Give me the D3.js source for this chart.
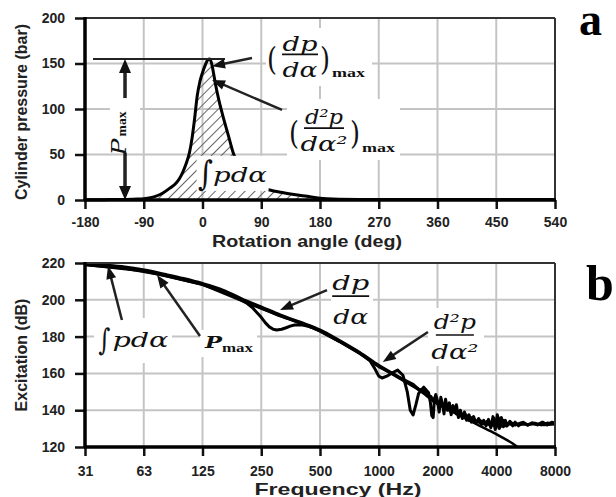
<!DOCTYPE html>
<html>
<head>
<meta charset="utf-8">
<script src="https://cdn.jsdelivr.net/npm/d3@7"></script>
<style>
  html, body { margin: 0; padding: 0; background: #fff; }
  svg { display: block; }
</style>
</head>
<body>
<svg id="chart" width="616" height="497"></svg>
<script>
// ---------------- DATA ----------------
// Panel a: cylinder pressure vs rotation angle
const angleTicks = [-180, -90, 0, 90, 180, 270, 360, 450, 540];
const pressureTicks = [0, 50, 100, 150, 200];
const angleDeg = [-180,-150,-120,-100,-90,-80,-70,-60,-50,-40,-35,-30,-25,-20,-16,-12,-8,-4,0,4,8,11,14,17,20,25,31,40,47,55,65,80,95,103,120,140,160,180,200,240,300,360,450,540];
const pressureBar = [0.3,0.4,0.6,1,1.5,2.5,4.5,8,13,19,24,31,40,52,68,90,115,130,140,148,154,155,150,139,127,110,93,70,52,38,26,17,12.5,11,8.5,6,4,2,1,0.6,0.5,0.5,0.5,0.5];
const pMaxValue = 155;
const hatchRange = [-70, 180];

// Panel b: excitation spectra (frequency Hz, dB)
const freqTicks = [31.25, 62.5, 125, 250, 500, 1000, 2000, 4000, 8000];
const freqTickLabels = ["31", "63", "125", "250", "500", "1000", "2000", "4000", "8000"];
const excitationTicks = [120, 140, 160, 180, 200, 220];

const spectrumIntegral = [[31.25,219.5],[40,218.6],[50,217.5],[63,215.8],[80,213.6],[100,211.2],[125,208.6],[160,204.8],[200,199.8],[250,195.5],[315,191],[400,187.3],[500,183.3],[630,177.5],[800,171],[1000,164],[1250,157.8],[1600,151],[2000,143.5],[2500,138],[3150,132.5],[4000,127],[5000,121],[5600,117]];
const spectrumPmax = [[31.25,219.8],[40,219],[50,218],[63,216.3],[80,214],[100,211.7],[125,209],[160,205.3],[200,200.5],[250,196.3],[315,191.8],[400,187.8],[500,183.8],[630,178],[800,171.5],[1000,164.5],[1250,158.5],[1600,151.5],[2000,144.5],[2400,139.5],[2800,136],[3200,133.5],[3600,132.5],[4000,131.5],[4500,132.5],[5000,132],[6000,132.5],[7000,132],[8000,132.5]];
const spectrumDp = [[31.25,219],[50,217.2],[80,213.3],[125,208.3],[160,204.5],[200,199.5],[212,198],[225,195.8],[238,193],[250,190.5],[262,187.6],[275,185.3],[288,184],[300,183.6],[318,184],[335,184.8],[352,185.7],[370,186.3],[400,186.4],[430,185.8],[460,184.7],[500,183],[630,177.3],[800,170.8],[1000,163.7],[1250,158.3],[1500,154],[1600,151.5],[1700,150.5],[1780,148],[1850,147.5],[1900,145],[1950,147],[2000,143.5],[2080,144.5],[2150,141],[2230,143],[2320,139.5],[2400,141.5],[2500,138],[2600,139.5],[2700,136],[2800,137.5],[2900,134.5],[3000,136],[3150,133.5],[3300,134.5],[3450,132.5],[3600,134],[3750,131],[3900,135.5],[4000,130.5],[4100,136],[4200,131],[4350,134.5],[4500,131.5],[4700,133.5],[5000,132],[5400,133.2],[5800,132],[6300,133],[6800,132],[7300,133],[8000,132.5]];
const spectrumD2p = [[31.25,219.2],[63,215.6],[125,208.4],[250,195.3],[500,183.2],[630,177.4],[800,171],[900,167],[950,163],[1000,158.5],[1040,157.5],[1100,158.5],[1180,160.5],[1250,161.8],[1330,159],[1400,150],[1450,140],[1500,137.4],[1550,143],[1600,149],[1650,151],[1700,152.5],[1750,151],[1800,149.5],[1840,144],[1870,137],[1900,136],[1930,146],[1960,148.5],[2000,145],[2040,139],[2080,147],[2120,143.5],[2160,138],[2200,146],[2250,140],[2300,144],[2350,137.5],[2400,142.5],[2450,139],[2500,143],[2560,136],[2620,140],[2680,135.5],[2750,139],[2820,134.5],[2900,137.5],[2980,133.5],[3060,136.5],[3150,133],[3250,135.5],[3350,132],[3450,134.5],[3550,131.5],[3650,135],[3750,130.5],[3850,136.5],[3950,129.5],[4050,137.5],[4150,130],[4250,136],[4350,131],[4450,134.5],[4550,131.5],[4700,134],[4850,131.5],[5000,133.5],[5200,131.5],[5500,133.5],[5800,131.8],[6100,133.2],[6500,132],[6900,133.5],[7300,132],[7700,133.5],[8000,133]];

// ---------------- LAYOUT ----------------
const svg = d3.select("#chart");
svg.append("rect").attr("width", 616).attr("height", 497).attr("fill", "#fff");

const xA = d3.scaleLinear().domain([-180, 540]).range([85, 555]);
const yA = d3.scaleLinear().domain([0, 200]).range([200, 18]);
const xB = d3.scaleLog().base(2).domain([31.25, 8000]).range([85, 555]);
const yB = d3.scaleLinear().domain([120, 220]).range([447, 263]);

const GRID = "#c4c4c4";
const TXT = "#222";
const SANS = "'Liberation Sans', Arial, sans-serif";
const SERIF = "'DejaVu Serif', serif";
const SERIF2 = "'Liberation Serif', 'Times New Roman', serif";
const intFmt = d => String(Math.round(d)); // plain hyphen-minus like the original

const defs = svg.append("defs");
const pat = defs.append("pattern").attr("id", "hatch").attr("patternUnits", "userSpaceOnUse")
  .attr("width", 7).attr("height", 7).attr("patternTransform", "rotate(45)");
pat.append("line").attr("x1", 0).attr("y1", 0).attr("x2", 0).attr("y2", 7)
  .attr("stroke", "#666").attr("stroke-width", 2);
defs.append("clipPath").attr("id", "clipB").append("rect")
  .attr("x", xB.range()[0]).attr("y", yB.range()[1]).attr("width", xB.range()[1] - xB.range()[0]).attr("height", yB.range()[0] - yB.range()[1]);

function grid(g, x, y, xt, yt) {
  g.selectAll(".gx").data(xt.slice(1, -1)).join("line")
    .attr("x1", d => x(d)).attr("x2", d => x(d)).attr("y1", y.range()[0]).attr("y2", y.range()[1])
    .attr("stroke", GRID).attr("stroke-width", 2);
  g.selectAll(".gy").data(yt.slice(1, -1)).join("line")
    .attr("y1", d => y(d)).attr("y2", d => y(d)).attr("x1", x.range()[0]).attr("x2", x.range()[1])
    .attr("stroke", GRID).attr("stroke-width", 2);
}

function frame(g, x, y, xt, yt, xfmt, xlabY) {
  const [x0, x1] = x.range(), [y0, y1] = y.range();
  g.append("line").attr("x1", x0).attr("x2", x1).attr("y1", y1).attr("y2", y1).attr("stroke", "#333").attr("stroke-width", 2);
  g.append("line").attr("x1", x1).attr("x2", x1).attr("y1", y1).attr("y2", y0).attr("stroke", "#333").attr("stroke-width", 2);
  const ax = d3.axisBottom(x).tickValues(xt).tickSize(9).tickFormat(xfmt);
  const gx = g.append("g").attr("transform", `translate(0,${y0})`).call(ax);
  const ay = d3.axisLeft(y).tickValues(yt).tickSize(10).tickFormat(intFmt);
  const gy = g.append("g").attr("transform", `translate(${x0},0)`).call(ay);
  [gx, gy].forEach(a => {
    a.select(".domain").remove();
    a.selectAll(".tick line").attr("stroke", "#111").attr("stroke-width", 2.5);
    a.selectAll(".tick text").attr("fill", TXT).attr("font-family", SANS).attr("font-weight", "bold").attr("font-size", 14);
  });
  gx.selectAll(".tick text").attr("dy", null).attr("y", xlabY);
  gy.selectAll(".tick text").attr("x", -20);
  g.append("line").attr("x1", x0 - 1).attr("x2", x1 + 1).attr("y1", y0).attr("y2", y0).attr("stroke", "#000").attr("stroke-width", 3.5);
  g.append("line").attr("x1", x0).attr("x2", x0).attr("y1", y1 - 1).attr("y2", y0).attr("stroke", "#000").attr("stroke-width", 3.5);
}

function arrow(g, x1, y1, x2, y2, len, w, sw) {
  const dx = x2 - x1, dy = y2 - y1, L = Math.hypot(dx, dy);
  const ux = dx / L, uy = dy / L;
  const bx = x2 - ux * len, by = y2 - uy * len;
  g.append("line").attr("x1", x1).attr("y1", y1).attr("x2", bx + ux * 2).attr("y2", by + uy * 2)
    .attr("stroke", "#222").attr("stroke-width", sw);
  g.append("path").attr("d", `M${x2},${y2}L${bx - uy * w / 2},${by + ux * w / 2}L${bx + uy * w / 2},${by - ux * w / 2}Z`)
    .attr("fill", "#111");
}

function whiteBox(g, x, y, w, h) {
  g.append("rect").attr("x", x).attr("y", y).attr("width", w).attr("height", h).attr("fill", "#fff");
}
function mtext(g, x, y, s, size, len, anchor, opts = {}) {
  const t = g.append("text").attr("x", x).attr("y", y).text(s)
    .attr("font-family", opts.family || SERIF).attr("font-size", size)
    .attr("font-style", opts.style || "italic").attr("font-weight", opts.weight || "normal")
    .attr("fill", "#111").attr("text-anchor", anchor || "start");
  if (len) t.attr("textLength", len).attr("lengthAdjust", "spacingAndGlyphs");
  return t;
}
function fraction(g, cx, y0, num, den, nLen, dLen, lineW, nDy, dDy, size) {
  mtext(g, cx, y0 + nDy, num, size, nLen, "middle");
  g.append("line").attr("x1", cx - lineW / 2).attr("x2", cx + lineW / 2).attr("y1", y0).attr("y2", y0)
    .attr("stroke", "#111").attr("stroke-width", 1.6);
  mtext(g, cx, y0 + dDy, den, size, dLen, "middle");
}

// ---------------- PANEL A ----------------
const gA = svg.append("g");
grid(gA, xA, yA, angleTicks, pressureTicks);

const pts = angleDeg.map((a, i) => [a, pressureBar[i]]);
const hatchPts = pts.filter(d => d[0] >= hatchRange[0] && d[0] <= hatchRange[1]);
gA.append("path").datum(hatchPts)
  .attr("d", d3.area().x(d => xA(d[0])).y0(yA(0)).y1(d => yA(d[1])).curve(d3.curveMonotoneX))
  .attr("fill", "url(#hatch)");
gA.append("path").datum(pts)
  .attr("d", d3.line().x(d => xA(d[0])).y(d => yA(d[1])).curve(d3.curveMonotoneX))
  .attr("fill", "none").attr("stroke", "#000").attr("stroke-width", 3).attr("stroke-linejoin", "round");

// Pmax marker line and double arrow
gA.append("line").attr("x1", xA(-167.7)).attr("x2", xA(34.5)).attr("y1", yA(pMaxValue)).attr("y2", yA(pMaxValue))
  .attr("stroke", "#222").attr("stroke-width", 2);
{
  const ax = xA(-118.7), top = yA(pMaxValue), bot = yA(0);
  gA.append("line").attr("x1", ax).attr("x2", ax).attr("y1", top + 10).attr("y2", bot - 10).attr("stroke", "#222").attr("stroke-width", 3.5);
  gA.append("path").attr("d", `M${ax},${top}L${ax - 6},${top + 14}L${ax + 6},${top + 14}Z`).attr("fill", "#111");
  gA.append("path").attr("d", `M${ax},${bot}L${ax - 6},${bot - 14}L${ax + 6},${bot - 14}Z`).attr("fill", "#111");
  whiteBox(gA, ax - 15, yA(112), 30, yA(52) - yA(112));
  const lg = gA.append("g").attr("transform", `translate(${ax + 1},${yA(49)}) rotate(-90)`);
  mtext(lg, 0, 0, "P", 21, 17, "start");
  mtext(lg, 19, 0, "max", 12, 25, "start", { family: SERIF2, style: "normal", weight: "bold" });
}

// label boxes (a)
whiteBox(gA, 266, 28, 106, 58);
whiteBox(gA, 287, 99, 113, 61);
whiteBox(gA, xA(-9), yA(48.5), 72, yA(10) - yA(48.5));

// (dp/dα)max
{
  const cx = xA(149.4), y0 = yA(160);
  mtext(gA, cx - 33, y0 + 16, "(", 32, 10, "start", { style: "normal" });
  fraction(gA, cx, y0, "dp", "dα", 35, 35, 36, -3, 23, 20);
  mtext(gA, cx + 20, y0 + 16, ")", 32, 10, "start", { style: "normal" });
  mtext(gA, cx + 32, y0 + 23, "max", 12, 33, "start", { family: SERIF2, style: "normal", weight: "bold" });
  arrow(gA, xA(75.8), yA(156), xA(14.6), yA(147), 13, 10, 2.5);
}
// (d²p/dα²)max
{
  const cx = xA(184.6), y0 = yA(79);
  mtext(gA, cx - 34, y0 + 16, "(", 32, 10, "start", { style: "normal" });
  fraction(gA, cx + 1, y0, "d²p", "dα²", 38, 47, 40, -4, 23, 20);
  mtext(gA, cx + 27, y0 + 16, ")", 32, 10, "start", { style: "normal" });
  mtext(gA, cx + 39, y0 + 24, "max", 12, 33, "start", { family: SERIF2, style: "normal", weight: "bold" });
  arrow(gA, xA(121.8), yA(99), xA(14.6), yA(132), 13, 10, 2.5);
}
// ∫pdα (a)
mtext(gA, xA(-6.9), yA(16), "∫", 34, 15, "start");
mtext(gA, xA(-6.9) + 15, yA(20), "pdα", 21, 54, "start");

frame(gA, xA, yA, angleTicks, pressureTicks, intFmt, 27);

// axis titles (a)
svg.append("text").attr("transform", `translate(27,${(yA(0) + yA(200)) / 2 + 3}) rotate(-90)`)
  .attr("text-anchor", "middle").attr("font-family", SANS).attr("font-weight", "bold").attr("font-size", 16)
  .attr("fill", TXT).text("Cylinder pressure  (bar)");
svg.append("text").attr("x", 307).attr("y", 247).attr("text-anchor", "middle")
  .attr("font-family", SANS).attr("font-weight", "bold").attr("font-size", 16.5).attr("fill", TXT)
  .attr("textLength", 190).attr("lengthAdjust", "spacingAndGlyphs").text("Rotation angle (deg)");

// ---------------- PANEL B ----------------
const gB = svg.append("g");
grid(gB, xB, yB, freqTicks, excitationTicks);

const lineSmooth = d3.line().x(d => xB(d[0])).y(d => yB(d[1])).curve(d3.curveMonotoneX);
const lineRough = d3.line().x(d => xB(d[0])).y(d => yB(d[1])).curve(d3.curveLinear);
const curves = gB.append("g").attr("clip-path", "url(#clipB)");
[spectrumIntegral, spectrumPmax].forEach(s => {
  curves.append("path").datum(s).attr("d", lineSmooth)
    .attr("fill", "none").attr("stroke", "#000").attr("stroke-width", 2.5).attr("stroke-linejoin", "round");
});
[spectrumDp, spectrumD2p].forEach(s => {
  curves.append("path").datum(s).attr("d", lineRough)
    .attr("fill", "none").attr("stroke", "#000").attr("stroke-width", 3).attr("stroke-linejoin", "round");
});

// label boxes (b)
whiteBox(gB, 94, 318, 78, 45);
whiteBox(gB, 200, 330, 57, 27);
whiteBox(gB, 331, 268, 42, 60);
whiteBox(gB, 428, 308, 56, 58);

// ∫pdα (b)
mtext(gB, xB(36.6), yB(172.8), "∫", 30, 12, "start");
mtext(gB, xB(36.6) + 14, yB(174.2), "pdα", 21, 56, "start");
arrow(gB, xB(48.3), yB(189), xB(41), yB(218.4), 13, 10, 2.5);
// Pmax (b)
mtext(gB, xB(128.8), yB(173.8), "P", 17, 17, "start", { weight: "bold" });
mtext(gB, xB(128.8) + 17, yB(171.6), "max", 12, 31, "start", { family: SERIF2, style: "normal", weight: "bold" });
arrow(gB, xB(121.3), yB(180.3), xB(73.1), yB(213.5), 13, 10, 2.5);
// dp/dα (b)
{
  const cx = xB(718), y0 = yB(202);
  fraction(gB, cx, y0, "dp", "dα", 37, 35, 37, -6, 28, 20);
  arrow(gB, xB(543), yB(205.3), xB(312), yB(194.5), 13, 10, 2.5);
}
// d²p/dα² (b)
{
  const cx = xB(2398), y0 = yB(180.9);
  fraction(gB, cx + 2, y0, "d²p", "dα²", 42, 47, 38, -6, 24, 20);
  arrow(gB, xB(1787), yB(182.5), xB(1049), yB(166.2), 13, 10, 2.5);
}

frame(gB, xB, yB, freqTicks, excitationTicks, (d, i) => freqTickLabels[i], 29);

svg.append("text").attr("transform", `translate(27,${(yB(120) + yB(220)) / 2}) rotate(-90)`)
  .attr("text-anchor", "middle").attr("font-family", SANS).attr("font-weight", "bold").attr("font-size", 16)
  .attr("fill", TXT).text("Excitation (dB)");
svg.append("text").attr("x", 338).attr("y", 495).attr("text-anchor", "middle")
  .attr("font-family", SANS).attr("font-weight", "bold").attr("font-size", 16.5).attr("fill", TXT)
  .attr("textLength", 167).attr("lengthAdjust", "spacingAndGlyphs").text("Frequency (Hz)");

// panel letters
svg.append("text").attr("x", 579).attr("y", 35).attr("font-family", SERIF2).attr("font-weight", "bold")
  .attr("font-size", 46).attr("fill", "#000").text("a");
svg.append("text").attr("x", 586).attr("y", 300).attr("font-family", SERIF2).attr("font-weight", "bold")
  .attr("font-size", 50).attr("fill", "#000").text("b");
</script>
</body>
</html>
